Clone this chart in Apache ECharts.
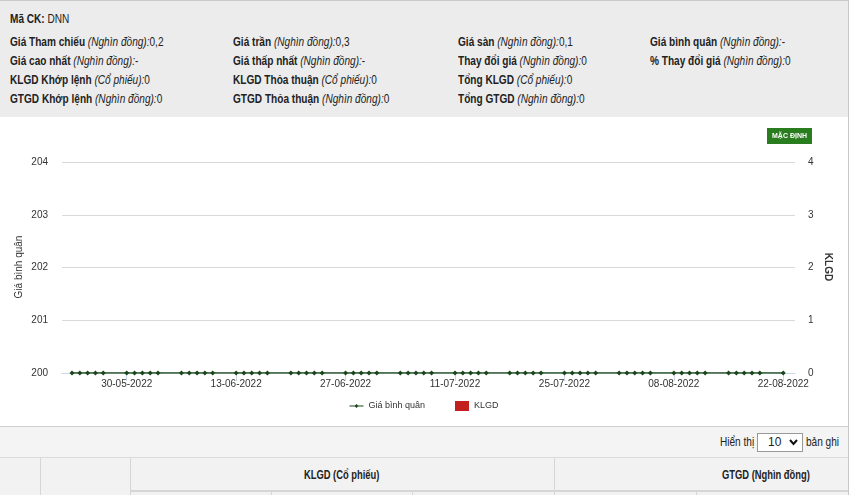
<!DOCTYPE html>
<html>
<head>
<meta charset="utf-8">
<script src="https://cdn.jsdelivr.net/npm/echarts@6/dist/echarts.min.js"></script>
<style>
  html, body { margin: 0; padding: 0; width: 850px; height: 495px; overflow: hidden; background: #fff;
    font-family: "Liberation Sans", Arial, sans-serif; color: #222; }
  #head { position: absolute; left: 0; top: 0; width: 848px; height: 116px; background: #ececec;
    border-top: 1px solid #c8c8c8; border-right: 1px solid #c8c8c8; }
  .t { position: absolute; font-size: 12px; white-space: nowrap; line-height: 14px; transform: scaleX(0.84); transform-origin: 0 50%; }
  .t b { font-weight: bold; }
  .t i { font-style: italic; }
  #chart { position: absolute; left: 0; top: 117px; width: 848px; height: 308px; }
  #rb { position: absolute; left: 848px; top: 0; width: 1px; height: 495px; background: #c8c8c8; }
  #band { position: absolute; left: 0; top: 426px; width: 848px; height: 30px; background: #f4f4f4;
    border-top: 1px solid #d0d0d0; border-bottom: 1px solid #dcdcdc; }
  #tbl { position: absolute; left: 0; top: 458px; width: 848px; height: 37px; background: #f2f2f2; }
  .vl { position: absolute; width: 1px; background: #d6d6d6; }
  .hl { position: absolute; height: 2px; background: #d6d6d6; }
  .th { position: absolute; font-size: 12px; font-weight: bold; white-space: nowrap; transform: scaleX(0.78); transform-origin: 0 50%; }
  #sel { position: absolute; left: 757px; top: 433px; width: 44px; height: 17px; border: 1px solid #999;
    background: #fff; font-size: 12px; }
</style>
</head>
<body>
<div id="head">
  <div class="t" style="left:10px;top:11px"><b>Mã CK:</b> DNN</div>
  <div class="t" style="left:10px;top:34px"><b>Giá Tham chiếu</b> <i>(Nghìn đồng):</i>0,2</div>
  <div class="t" style="left:10px;top:53px"><b>Giá cao nhất</b> <i>(Nghìn đồng):</i>-</div>
  <div class="t" style="left:10px;top:72px"><b>KLGD Khớp lệnh</b> <i>(Cổ phiếu):</i>0</div>
  <div class="t" style="left:10px;top:91px"><b>GTGD Khớp lệnh</b> <i>(Nghìn đồng):</i>0</div>

  <div class="t" style="left:233px;top:34px"><b>Giá trần</b> <i>(Nghìn đồng):</i>0,3</div>
  <div class="t" style="left:233px;top:53px"><b>Giá thấp nhất</b> <i>(Nghìn đồng):</i>-</div>
  <div class="t" style="left:233px;top:72px"><b>KLGD Thỏa thuận</b> <i>(Cổ phiếu):</i>0</div>
  <div class="t" style="left:233px;top:91px"><b>GTGD Thỏa thuận</b> <i>(Nghìn đồng):</i>0</div>

  <div class="t" style="left:458px;top:34px"><b>Giá sàn</b> <i>(Nghìn đồng):</i>0,1</div>
  <div class="t" style="left:458px;top:53px"><b>Thay đổi giá</b> <i>(Nghìn đồng):</i>0</div>
  <div class="t" style="left:458px;top:72px"><b>Tổng KLGD</b> <i>(Cổ phiếu):</i>0</div>
  <div class="t" style="left:458px;top:91px"><b>Tổng GTGD</b> <i>(Nghìn đồng):</i>0</div>

  <div class="t" style="left:650px;top:34px"><b>Giá bình quân</b> <i>(Nghìn đồng):</i>-</div>
  <div class="t" style="left:650px;top:53px"><b>% Thay đổi giá</b> <i>(Nghìn đồng):</i>0</div>
</div>
<div id="chart"></div>
<div id="band">
  <div class="t" style="left:720px;top:8px">Hiển thị</div>
  <div class="t" style="left:806px;top:8px">bản ghi</div>
</div>
<div id="sel"><span style="position:absolute;left:10px;top:1px">10</span>
  <svg style="position:absolute;left:31px;top:5px" width="9" height="7" viewBox="0 0 9 7"><path d="M1 1 L4.5 5 L8 1" stroke="#111" stroke-width="2" fill="none"/></svg></div>
<div id="tbl">
  <div class="vl" style="left:40px;top:0;height:37px"></div>
  <div class="vl" style="left:130px;top:0;height:37px"></div>
  <div class="vl" style="left:554px;top:0;height:33px"></div>
  <div class="hl" style="left:130px;top:32px;width:718px"></div>
  <div class="vl" style="left:271px;top:34px;height:3px"></div>
  <div class="vl" style="left:412px;top:34px;height:3px"></div>
  <div class="vl" style="left:554px;top:34px;height:3px"></div>
  <div class="vl" style="left:696px;top:34px;height:3px"></div>
  <div class="th" style="left:304px;top:10px">KLGD (Cổ phiếu)</div>
  <div class="th" style="left:722px;top:10px">GTGD (Nghìn đồng)</div>
</div>
<div id="rb"></div>
<script>
// Trading dates (weekdays)
const dates = [
  '2022-05-23','2022-05-24','2022-05-25','2022-05-26','2022-05-27',
  '2022-05-30','2022-05-31','2022-06-01','2022-06-02','2022-06-03',
  '2022-06-06','2022-06-07','2022-06-08','2022-06-09','2022-06-10',
  '2022-06-13','2022-06-14','2022-06-15','2022-06-16','2022-06-17',
  '2022-06-20','2022-06-21','2022-06-22','2022-06-23','2022-06-24',
  '2022-06-27','2022-06-28','2022-06-29','2022-06-30','2022-07-01',
  '2022-07-04','2022-07-05','2022-07-06','2022-07-07','2022-07-08',
  '2022-07-11','2022-07-12','2022-07-13','2022-07-14','2022-07-15',
  '2022-07-18','2022-07-19','2022-07-20','2022-07-21','2022-07-22',
  '2022-07-25','2022-07-26','2022-07-27','2022-07-28','2022-07-29',
  '2022-08-01','2022-08-02','2022-08-03','2022-08-04','2022-08-05',
  '2022-08-08','2022-08-09','2022-08-10','2022-08-11','2022-08-12',
  '2022-08-15','2022-08-16','2022-08-17','2022-08-18','2022-08-19',
  '2022-08-22'
];
// Giá bình quân
const avgPrice = [
  200,200,200,200,200, 200,200,200,200,200, 200,200,200,200,200,
  200,200,200,200,200, 200,200,200,200,200, 200,200,200,200,200,
  200,200,200,200,200, 200,200,200,200,200, 200,200,200,200,200,
  200,200,200,200,200, 200,200,200,200,200, 200,200,200,200,200,
  200,200,200,200,200, 200
];
// KLGD
const volume = [
  0,0,0,0,0, 0,0,0,0,0, 0,0,0,0,0,
  0,0,0,0,0, 0,0,0,0,0, 0,0,0,0,0,
  0,0,0,0,0, 0,0,0,0,0, 0,0,0,0,0,
  0,0,0,0,0, 0,0,0,0,0, 0,0,0,0,0,
  0,0,0,0,0, 0
];
const xTickDates = ['2022-05-30','2022-06-13','2022-06-27','2022-07-11','2022-07-25','2022-08-08','2022-08-22'];
const leftTicks = [200, 201, 202, 203, 204];
const rightTicks = [0, 1, 2, 3, 4];
const leftTitle = 'Giá bình quân';
const rightTitle = 'KLGD';

function ts(s) { const p = s.split('-').map(Number); return Date.UTC(p[0], p[1] - 1, p[2]); }
function pad(n) { return (n < 10 ? '0' : '') + n; }
function fmt(v) { const d = new Date(Math.round(v)); return pad(d.getUTCDate()) + '-' + pad(d.getUTCMonth() + 1) + '-' + d.getUTCFullYear(); }
const DAY = 86400000;
const xMin = ts(dates[0]) - 1.28 * DAY;
const xMax = ts(dates[dates.length - 1]) + 1.5 * DAY;
const tickVals = xTickDates.map(ts);
const FONT = '"Liberation Sans", Arial, sans-serif';

const chart = echarts.init(document.getElementById('chart'), null, { renderer: 'canvas' });
chart.setOption({
  animation: false,
  backgroundColor: '#fff',
  textStyle: { fontFamily: FONT },
  grid: { left: 62, right: 53, top: 45, bottom: 52, containLabel: false },
  legend: {
    top: 279, left: 'center', itemGap: 30, itemWidth: 14, itemHeight: 10,
    textStyle: { fontSize: 9, color: '#333', fontFamily: FONT },
    data: [
      { name: 'Giá bình quân', icon: 'path://M0,4.5 L14,4.5 L14,5.5 L0,5.5 Z M7,3 L9,5 L7,7 L5,5 Z' },
      { name: 'KLGD', icon: 'rect' }
    ]
  },
  xAxis: {
    type: 'value', min: xMin, max: xMax,
    axisLine: { show: true, onZero: false, lineStyle: { color: '#ccd6eb' } },
    axisTick: { show: true, customValues: tickVals, length: 8, lineStyle: { color: '#ccd6eb' } },
    axisLabel: { customValues: tickVals, formatter: fmt, color: '#333', fontSize: 10, margin: 6, fontFamily: FONT },
    splitLine: { show: false }
  },
  yAxis: [
    {
      type: 'value', min: leftTicks[0], max: leftTicks[leftTicks.length - 1], interval: 1,
      axisLine: { show: false }, axisTick: { show: false },
      axisLabel: { color: '#333', fontSize: 10, margin: 14, fontFamily: FONT },
      splitLine: { lineStyle: { color: '#d9d9d9' } }
    },
    {
      type: 'value', min: rightTicks[0], max: rightTicks[rightTicks.length - 1], interval: 1,
      axisLine: { show: false }, axisTick: { show: false },
      axisLabel: { color: '#333', fontSize: 10, margin: 13, fontFamily: FONT },
      splitLine: { show: false }
    }
  ],
  graphic: [
    { type: 'text', x: 19, y: 150, rotation: Math.PI / 2,
      style: { text: leftTitle, fill: '#333', font: '10px ' + FONT, align: 'center', verticalAlign: 'middle' } },
    { type: 'text', x: 828, y: 150, rotation: -Math.PI / 2,
      style: { text: rightTitle, fill: '#333', font: 'bold 10px ' + FONT, align: 'center', verticalAlign: 'middle' } },
    {
      type: 'group', right: 36, top: 11,
      children: [
        { type: 'rect', shape: { x: 0, y: 0, width: 45, height: 16 }, style: { fill: '#2a7d1f' } },
        { type: 'text', style: { x: 22.5, y: 8, text: 'MẶC ĐỊNH', fill: '#fff', font: 'bold 7px ' + FONT, align: 'center', verticalAlign: 'middle' } }
      ]
    }
  ],
  series: [
    {
      name: 'Giá bình quân', type: 'line', yAxisIndex: 0, z: 5,
      data: dates.map((d, i) => [ts(d), avgPrice[i]]),
      symbol: 'diamond', symbolSize: 5, showSymbol: true,
      itemStyle: { color: '#1a471a' }, lineStyle: { color: '#1a471a', width: 1.3 }
    },
    {
      name: 'KLGD', type: 'bar', yAxisIndex: 1,
      data: dates.map((d, i) => [ts(d), volume[i]]),
      itemStyle: { color: '#c41f1f' }, barWidth: 5
    }
  ]
});
</script>
</body>
</html>
